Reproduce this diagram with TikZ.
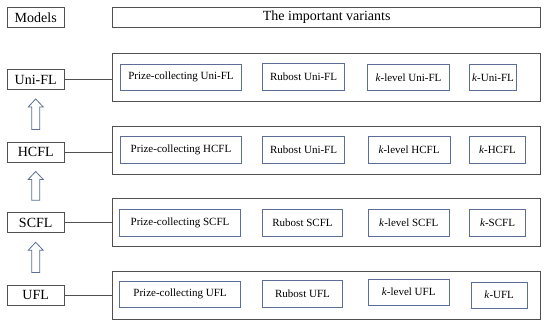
\documentclass[tikz,border=0pt]{standalone}
\usepackage{fontspec}
\setmainfont{Liberation Serif}
\usetikzlibrary{calc}
\definecolor{outer}{RGB}{80,80,80}
\definecolor{inner}{RGB}{92,110,150}
\tikzset{
  hdr/.style={draw=outer,line width=0.9pt,inner sep=0pt,minimum height=20pt,font=\fontsize{14}{16}\selectfont},
  model/.style={hdr,minimum width=56.7pt},
  rowbox/.style={draw=outer,line width=0.9pt,inner sep=0pt,minimum width=428pt,minimum height=47.5pt},
  var/.style={draw=inner,line width=0.9pt,inner sep=0pt,minimum height=26.5pt,font=\fontsize{11}{13}\selectfont},
  conn/.style={draw=outer,line width=0.9pt},
  hol/.style={draw=inner,line width=0.8pt,line join=miter},
}
\newcommand\hollowup[2]{%
  \coordinate (T) at ($(#1.south)+(0,9)$);
  \coordinate (B) at ($(#2.north)+(0,-12)$);
  \draw[hol] (T) -- ++(7.5,8) -- ++(-3.5,0) |- (B) -- ++(-4,0) -- ($(T)+(-4,8)$) -- ($(T)+(-7.5,8)$) -- cycle;
}
\begin{document}
\begin{tikzpicture}[x=1pt,y=-1pt]
\useasboundingbox[fill=white] (0,0) rectangle (550,329);
\node[model] (models) at (35.7,17.3) {Models};
\node[hdr,minimum width=428pt] (variants) at (326.7,17.3) {The important variants};

\node[model] (uni) at (35.7,79.5) {Uni-FL};
\node[model] (hcfl) at (35.7,152) {HCFL};
\node[model] (scfl) at (35.7,222.8) {SCFL};
\node[model] (ufl) at (35.7,295) {UFL};

\node[rowbox] (runi) at (326.7,77.5) {};
\node[rowbox] (rhcfl) at (326.7,150.5) {};
\node[rowbox] (rscfl) at (326.7,222.2) {};
\node[rowbox,minimum height=48pt] (rufl) at (326.7,295) {};

\foreach \m/\r in {uni/runi,hcfl/rhcfl,scfl/rscfl,ufl/rufl}
  \draw[conn] (\m.east) -- (\m.east -| \r.west);

\hollowup{uni}{hcfl}
\hollowup{hcfl}{scfl}
\hollowup{scfl}{ufl}

% Uni-FL row
\node[var,minimum width=120.6pt] (u1) at (181,77.3) {Prize-collecting Uni-FL};
\node[var,minimum width=82.5pt] (u2) at (303.6,77) {Rubost Uni-FL};
\node[var,minimum width=81.5pt] (u3) at (408.5,77.3) {\textit{k}-level Uni-FL};
\node[var,minimum width=47.4pt] (u4) at (493,77.3) {\textit{k}-Uni-FL};
% HCFL row
\node[var,minimum width=120.6pt] (h1) at (181,150) {Prize-collecting HCFL};
\node[var,minimum width=82.5pt] (h2) at (303.6,150) {Rubost Uni-FL};
\node[var,minimum width=82pt] (h3) at (409,150) {\textit{k}-level HCFL};
\node[var,minimum width=56.4pt] (h4) at (497.5,150) {\textit{k}-HCFL};
% SCFL row
\node[var,minimum width=121pt] (s1) at (180,223) {Prize-collecting SCFL};
\node[var,minimum width=80.5pt] (s2) at (302.5,223) {Rubost SCFL};
\node[var,minimum width=81pt] (s3) at (408.8,223) {\textit{k}-level SCFL};
\node[var,minimum width=56.4pt] (s4) at (497.5,223) {\textit{k}-SCFL};
% UFL row
\node[var,minimum width=121pt] (f1) at (180,294.3) {Prize-collecting UFL};
\node[var,minimum width=80.5pt] (f2) at (302.5,294) {Rubost UFL};
\node[var,minimum width=80.7pt] (f3) at (408.7,292.2) {\textit{k}-level UFL};
\node[var,minimum width=56.3pt] (f4) at (499.2,295.2) {\textit{k}-UFL};
\end{tikzpicture}
\end{document}
